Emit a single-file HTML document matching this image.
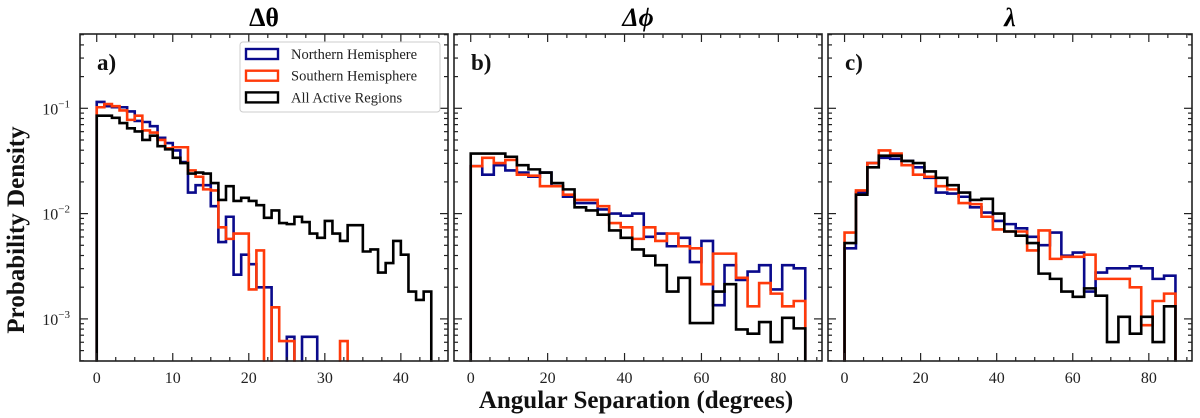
<!DOCTYPE html>
<html><head><meta charset="utf-8">
<style>
html,body{margin:0;padding:0;background:#fff;}
svg{display:block;font-family:"Liberation Serif",serif;}
</style></head>
<body>
<svg id="chart" width="1200" height="418" viewBox="0 0 1200 418"></svg>
<script>
// log10 probability density per bin
const binEdgesA = {start:0, width:1, count:44};
const binEdgesBC = {start:0, width:3, count:29};
const blackA = [-1.07,-1.07,-1.09,-1.14,-1.19,-1.22,-1.30,-1.26,-1.36,-1.39,-1.47,-1.52,-1.62,-1.61,-1.62,-1.71,-1.87,-1.74,-1.88,-1.85,-1.88,-1.92,-2.04,-1.97,-2.09,-2.10,-2.03,-2.08,-2.19,-2.23,-2.07,-2.19,-2.26,-2.11,-2.11,-2.36,-2.34,-2.56,-2.47,-2.26,-2.39,-2.74,-2.82,-2.74];
const blueA = [-0.94,-0.98,-0.99,-0.99,-1.03,-1.12,-1.13,-1.17,-1.28,-1.33,-1.40,-1.51,-1.80,-1.73,-1.73,-1.93,-2.27,-2.03,-2.58,-2.39,-2.48,-2.70,-2.70,null,null,-3.17,null,-3.17,-3.17,null,null,null,null,null,null,null,null,null,null,null,null,null,null,null];
const orangeA = [-0.99,-0.96,-0.98,-1.02,-1.11,-1.07,-1.21,-1.23,-1.30,-1.38,-1.37,-1.37,-1.59,-1.65,-1.77,-1.78,-2.13,-2.24,-2.19,-2.19,-2.72,-2.35,null,-2.89,-3.21,-3.21,null,null,null,null,null,null,-3.21,null,null,null,null,null,null,null,null,null,null,null];
const blackB = [-1.43,-1.43,-1.43,-1.46,-1.54,-1.58,-1.61,-1.71,-1.77,-1.94,-1.97,-2.01,-2.16,-2.23,-2.34,-2.40,-2.49,-2.74,-2.61,-3.04,-3.04,-2.74,-2.67,-3.10,-3.14,-3.03,-3.22,-2.99,-3.09];
const blueB = [-1.55,-1.63,-1.54,-1.59,-1.61,-1.65,-1.61,-1.74,-1.84,-1.90,-1.90,-1.96,-2.00,-2.02,-2.00,-2.22,-2.19,-2.31,-2.23,-2.46,-2.26,-2.87,-2.49,-2.63,-2.55,-2.49,-2.72,-2.49,-2.52];
const orangeB = [-1.55,-1.47,-1.52,-1.49,-1.63,-1.64,-1.74,-1.74,-1.82,-1.87,-1.87,-1.93,-2.09,-2.13,-2.24,-2.13,-2.26,-2.19,-2.31,-2.33,-2.67,-2.38,-2.38,-2.61,-2.88,-2.66,-2.76,-2.88,-2.83];
const blackC = [-2.28,-1.82,-1.56,-1.45,-1.45,-1.50,-1.52,-1.60,-1.66,-1.73,-1.80,-1.87,-1.86,-2.00,-2.17,-2.21,-2.28,-2.57,-2.62,-2.74,-2.79,-2.71,-2.78,-3.22,-2.98,-3.14,-2.98,-3.22,-2.88];
const blueC = [-2.33,-1.80,-1.52,-1.47,-1.48,-1.50,-1.56,-1.66,-1.80,-1.81,-1.84,-1.94,-1.99,-2.07,-2.10,-2.14,-2.22,-2.30,-2.18,-2.40,-2.37,-2.74,-2.56,-2.52,-2.52,-2.50,-2.52,-2.62,-2.59];
const orangeC = [-2.18,-1.78,-1.52,-1.40,-1.43,-1.54,-1.63,-1.65,-1.74,-1.77,-1.90,-1.91,-2.03,-2.15,-2.17,-2.17,-2.35,-2.16,-2.43,-2.41,-2.41,-2.39,-2.62,-2.62,-2.62,-2.70,-3.06,-2.83,-2.76];
const yTickExps = [-1,-2,-3];
const xTicksA = [0,10,20,30,40];
const xTicksBC = [0,20,40,60,80];
const titles = ["Δθ","Δϕ","λ"];
const panelLabels = ["a)","b)","c)"];
const legendLabels = ["Northern Hemisphere","Southern Hemisphere","All Active Regions"];

const NS="http://www.w3.org/2000/svg";
const svg=document.getElementById('chart');
function mk(tag,attrs,parent){const e=document.createElementNS(NS,tag);for(const k in attrs)e.setAttribute(k,attrs[k]);(parent||svg).appendChild(e);return e;}
const TOP=34,BOT=361;
const yScale=e=>108.3+(-1-e)*105.3;
const COL={blue:"#0a0a8c",orange:"#ff3a0a",black:"#000"};

const panels=[
 {x0:80,x1:448,xmin:-2.2,xmax:46.2,bins:binEdgesA,ticks:xTicksA,minor:2.5,series:[blueA,orangeA,blackA]},
 {x0:454,x1:822,xmin:-4.35,xmax:91.35,bins:binEdgesBC,ticks:xTicksBC,minor:5,series:[blueB,orangeB,blackB]},
 {x0:828,x1:1192,xmin:-4.35,xmax:91.35,bins:binEdgesBC,ticks:xTicksBC,minor:5,series:[blueC,orangeC,blackC]}
];
const colors=[COL.blue,COL.orange,COL.black];
const sNames=["northern","southern","all-regions"];

panels.forEach((p,pi)=>{
  const xs=v=>p.x0+(v-p.xmin)/(p.xmax-p.xmin)*(p.x1-p.x0);
  const g=mk('g',{});
  
  
  p.series.forEach((arr,si)=>{
    let d="";
    const b=p.bins;
    let pen=false;
    for(let i=0;i<arr.length;i++){
      const xa=xs(b.start+i*b.width), xb=xs(b.start+(i+1)*b.width);
      if(arr[i]===null){
        if(pen){d+=`L${xa},${BOT+3}`;pen=false;}
        continue;
      }
      const y=yScale(arr[i]);
      if(!pen){d+=`M${xa},${BOT+3}`;pen=true;}
      d+=`L${xa},${y}L${xb},${y}`;
    }
    if(pen)d+=`L${xs(b.start+arr.length*b.width)},${BOT+3}`;
    const path=mk('path',{d:d,fill:'none',stroke:colors[si],'stroke-width':2.6,'stroke-linejoin':'miter'},g);
    
    
  });
  // mask below axis
  mk('rect',{x:p.x0-2,y:BOT+0.8,width:p.x1-p.x0+4,height:6,fill:'#fff'},g);
  const fr=mk('rect',{x:p.x0,y:TOP,width:p.x1-p.x0,height:BOT-TOP,fill:'none',stroke:'#222','stroke-width':1.6},g);
  
  
  for(let dec=-4;dec<=0;dec++){
    for(let m=1;m<=9;m++){
      const e=dec+Math.log10(m);
      const y=yScale(e);
      if(y<TOP||y>BOT)continue;
      const L=m===1?8:4;
      mk('line',{x1:p.x0,x2:p.x0+L,y1:y,y2:y,stroke:'#222','stroke-width':1.2},g);
      mk('line',{x1:p.x1,x2:p.x1-L,y1:y,y2:y,stroke:'#222','stroke-width':1.2},g);
    }
  }
  for(let v=0;xs(v)<=p.x1;v+=p.minor){
    const x=xs(v);
    const major=p.ticks.includes(v);
    const L=major?8:4;
    mk('line',{x1:x,x2:x,y1:BOT,y2:BOT-L,stroke:'#222','stroke-width':1.2},g);
    mk('line',{x1:x,x2:x,y1:TOP,y2:TOP+L,stroke:'#222','stroke-width':1.2},g);
  }
  p.ticks.forEach(v=>{
    const t=mk('text',{x:xs(v),y:BOT+22,'text-anchor':'middle','font-size':16,fill:'#222'},g);
    t.textContent=v;
    
    
  });
  const tt=mk('text',{x:(p.x0+p.x1)/2,y:26,'text-anchor':'middle','font-size':26,'font-weight':'bold','font-style':pi===0?'normal':'italic',fill:'#000'},g);
  tt.textContent=titles[pi];
  
  
  const pl=mk('text',{x:p.x0+17,y:70,'font-size':23,'font-weight':'bold',fill:'#111'},g);
  pl.textContent=panelLabels[pi];
  
  
});
yTickExps.forEach(e=>{
  const t=mk('text',{x:70,y:yScale(e)+6,'text-anchor':'end','font-size':16,fill:'#222'});
  
  
  const a=mk('tspan',{},t);a.textContent='10';
  const s=mk('tspan',{dy:-7,'font-size':11},t);s.textContent='−'+(-e);
});
const yt=mk('text',{x:0,y:0,transform:'translate(24,230) rotate(-90)','text-anchor':'middle','font-size':25,'font-weight':'bold',fill:'#111'});
yt.textContent='Probability Density';


const xt=mk('text',{x:636,y:408,'text-anchor':'middle','font-size':25,'font-weight':'bold',fill:'#111'});
xt.textContent='Angular Separation (degrees)';


const lg=mk('g',{});


mk('rect',{x:240,y:42,width:200,height:70,rx:3,fill:'#fff',stroke:'#ccc','stroke-width':1},lg);
legendLabels.forEach((l,i)=>{
  const y=49+i*21.7;
  const r=mk('rect',{x:246,y:y,width:32,height:10,fill:'none',stroke:colors[i],'stroke-width':2.4},lg);
  
  
  const t=mk('text',{x:291,y:y+10,'font-size':14.5,fill:'#222'},lg);
  t.textContent=l;
  
  
});
</script>
</body></html>
